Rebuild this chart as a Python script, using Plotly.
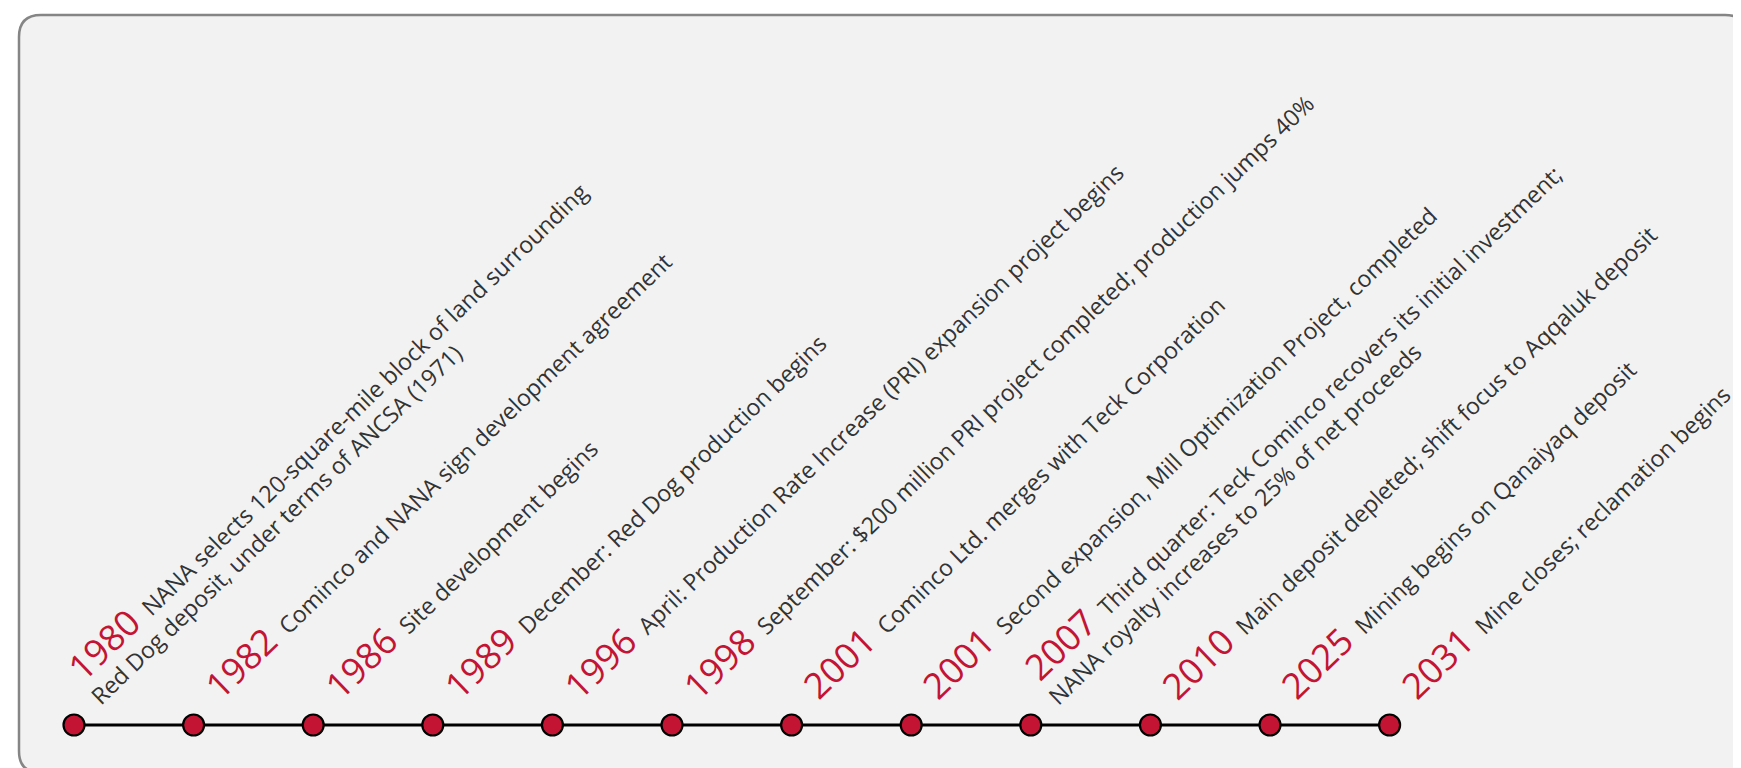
import plotly.graph_objects as go

years = ["1980", "1982", "1986", "1989", "1996", "1998", "2001", "2001", "2007", "2010", "2025", "2031"]
line1 = [
    "NANA selects 120-square-mile block of land surrounding",
    "Cominco and NANA sign development agreement",
    "Site development begins",
    "December: Red Dog production begins",
    "April: Production Rate Increase (PRI) expansion project begins",
    "September: $200 million PRI project completed; production jumps 40%",
    "Cominco Ltd. merges with Teck Corporation",
    "Second expansion, Mill Optimization Project, completed",
    "Third quarter: Teck Cominco recovers its initial investment;",
    "Main deposit depleted; shift focus to Aqqaluk deposit",
    "Mining begins on Qanaiyaq deposit",
    "Mine closes; reclamation begins",
]
line2 = [
    "Red Dog deposit, under terms of ANCSA (1971)",
    "", "", "", "", "", "", "",
    "NANA royalty increases to 25% of net proceeds",
    "", "", "",
]

W, H = 1741, 768
RED = "#c41434"
TXT = "#333333"
FONT = "Open Sans"
ANG = -44
YEAR_SIZE = 36
DESC_SIZE = 23.2

xs = list(range(len(years)))
ys = [0] * len(years)

fig = go.Figure()
fig.add_trace(go.Scatter(
    x=xs, y=ys, mode="lines+markers",
    line=dict(color="black", width=3),
    marker=dict(size=21, color=RED, line=dict(color="black", width=2.2)),
    hoverinfo="skip", showlegend=False,
))

annotations = []
for i, (yr, t1, t2) in enumerate(zip(years, line1, line2)):
    txt = f"<span style='font-size:{YEAR_SIZE}px;color:{RED}'>{yr}</span>\u00a0\u00a0{t1}"
    two = bool(t2)
    annotations.append(dict(
        x=xs[i], y=0, xref="x", yref="y", text=txt, showarrow=False,
        textangle=ANG, xanchor="left", yanchor="bottom",
        xshift=-20 if two else -2, yshift=32 if two else 13,
        font=dict(family=FONT, size=DESC_SIZE, color=TXT),
    ))
    if two:
        annotations.append(dict(
            x=xs[i], y=0, xref="x", yref="y", text=t2, showarrow=False,
            textangle=ANG, xanchor="left", yanchor="bottom",
            xshift=7, yshift=11,
            font=dict(family=FONT, size=DESC_SIZE, color=TXT),
        ))

# rounded frame (pixel geometry converted to paper units)
L, R, T, B, r = 11, 1739, 7, 765, 22
def px(v): return v / W
def py(v): return 1 - v / H
path = (f"M {px(L+r)} {py(T)} L {px(R-r)} {py(T)} Q {px(R)} {py(T)} {px(R)} {py(T+r)} "
        f"L {px(R)} {py(B-r)} Q {px(R)} {py(B)} {px(R-r)} {py(B)} "
        f"L {px(L+r)} {py(B)} Q {px(L)} {py(B)} {px(L)} {py(B-r)} "
        f"L {px(L)} {py(T+r)} Q {px(L)} {py(T)} {px(L+r)} {py(T)} Z")

x0, step = 66, 119.6
fig.update_layout(
    width=W, height=H,
    margin=dict(l=0, r=0, t=0, b=0),
    paper_bgcolor="white", plot_bgcolor="rgba(0,0,0,0)",
    xaxis=dict(range=[-x0 / step, (W - x0) / step], visible=False, fixedrange=True),
    yaxis=dict(range=[-(H - 717), 717], visible=False, fixedrange=True),
    shapes=[dict(type="path", xref="paper", yref="paper", path=path,
                 fillcolor="#f2f2f2", line=dict(color="#858585", width=2.5), layer="below")],
    annotations=annotations,
    font=dict(family=FONT),
)

fig.write_html("out.html")
